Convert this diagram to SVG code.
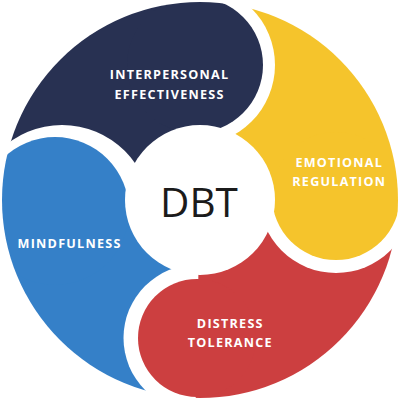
<svg xmlns="http://www.w3.org/2000/svg" width="400" height="401" viewBox="0 0 400 401">
<style>
.lbl{font-family:"Open Sans","Noto Sans","Liberation Sans",sans-serif;font-weight:700;font-size:12.6px;letter-spacing:1.25px;fill:#fff;text-anchor:middle}
.core{font-family:"Open Sans","Noto Sans","Liberation Sans",sans-serif;font-weight:400;font-size:40.5px;fill:#1b1b1b;text-anchor:middle}
</style>
<defs>
<mask id="mN" maskUnits="userSpaceOnUse" x="0" y="0" width="400" height="401">
<circle cx="200" cy="200" r="198" fill="#fff"/>
<circle cx="62" cy="214" r="89" fill="#000"/>
</mask>
<mask id="mY" maskUnits="userSpaceOnUse" x="0" y="0" width="400" height="401">
<circle cx="200" cy="200" r="198" fill="#fff"/>
<circle cx="195" cy="65" r="80" fill="#000"/>
</mask>
<mask id="mR" maskUnits="userSpaceOnUse" x="0" y="0" width="400" height="401">
<circle cx="200" cy="200" r="198" fill="#fff"/>
<circle cx="336" cy="196" r="77" fill="#000"/>
</mask>
<mask id="mB" maskUnits="userSpaceOnUse" x="0" y="0" width="400" height="401">
<circle cx="200" cy="200" r="198" fill="#fff"/>
<circle cx="197" cy="338" r="73.5" fill="#000"/>
</mask>
</defs>
<g id="interpersonal-effectiveness">
<g mask="url(#mN)" fill="#283152">
<polygon points="200,200 -100,222.8 -100,-100 188.9,-100"/>
<circle cx="195" cy="65" r="68"/>
</g>
<text class="lbl" x="169.6" y="79">INTERPERSONAL</text>
<text class="lbl" x="169.6" y="98.5">EFFECTIVENESS</text>
</g>
<g id="emotional-regulation">
<g mask="url(#mY)" fill="#F5C42C">
<polygon points="200,200 188.9,-100 500,-100 500,191"/>
<circle cx="336" cy="196" r="64"/>
</g>
<text class="lbl" x="339.3" y="166.5">EMOTIONAL</text>
<text class="lbl" x="339.3" y="185.5">REGULATION</text>
</g>
<g id="distress-tolerance">
<g mask="url(#mR)" fill="#CC3F40">
<polygon points="200,200 500,191 500,500 193.5,500"/>
<circle cx="197" cy="338" r="59"/>
</g>
<text class="lbl" x="230.3" y="328">DISTRESS</text>
<text class="lbl" x="230.3" y="347">TOLERANCE</text>
</g>
<g id="mindfulness">
<g mask="url(#mB)" fill="#3580C8">
<polygon points="200,200 193.5,500 -100,500 -100,222.8"/>
<circle cx="55" cy="211" r="74"/>
</g>
<text class="lbl" x="69.6" y="248">MINDFULNESS</text>
</g>
<g id="dbt">
<circle cx="200" cy="200" r="75" fill="#fff"/>
<text class="core" x="199" y="216.5">DBT</text>
</g>
</svg>
